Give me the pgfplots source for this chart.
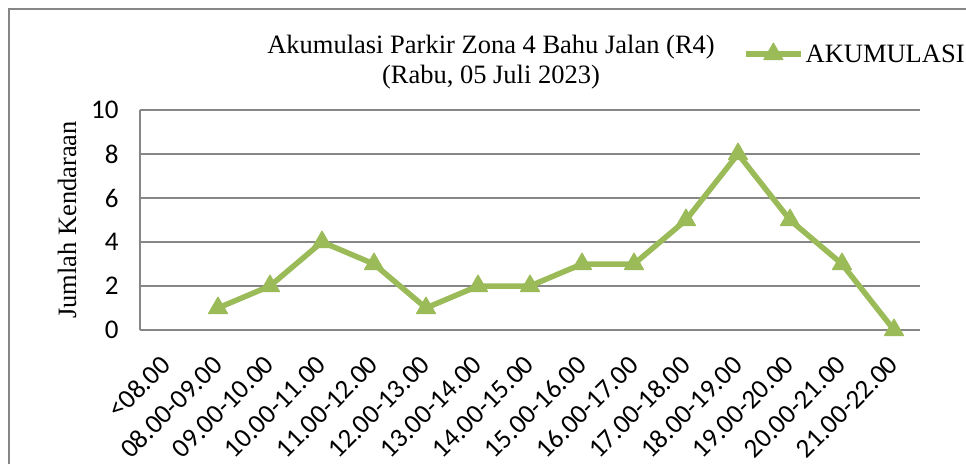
\documentclass[border=0pt]{standalone}
\usepackage{fontspec}
\setmainfont{Liberation Serif}
\newfontfamily\carlito{Carlito}
\usepackage{pgfplots}
\pgfplotsset{compat=1.18}
\definecolor{akumgreen}{HTML}{9BBB59}
\definecolor{gridgray}{HTML}{868686}

\begin{document}
\begin{tikzpicture}[x=1pt,y=1pt]
\useasboundingbox (0,0) rectangle (966,464);
\draw[gridgray, line width=1.5pt] (9,0) -- (9,455) -- (966,455);
\begin{axis}[
  at={(140pt,134pt)}, anchor=south west,
  scale only axis, width=780pt, height=220pt,
  xmin=-0.5, xmax=14.5, ymin=0, ymax=10,
  axis x line*=bottom, axis y line*=left,
  axis line style={gridgray, line width=1.5pt, -},
  ymajorgrids, grid style={gridgray, line width=1.5pt},
  ytick={0,2,...,10},
  xtick={0,...,14},
  xticklabels={<08.00,08.00-09.00,09.00-10.00,10.00-11.00,11.00-12.00,12.00-13.00,13.00-14.00,14.00-15.00,15.00-16.00,16.00-17.00,17.00-18.00,18.00-19.00,19.00-20.00,20.00-21.00,21.00-22.00},
  major tick length=0pt,
  tick style={draw=none},
  /pgf/number format/assume math mode=true,
  ticklabel style={font=\carlito\fontsize{27}{32}\selectfont},
  xticklabel style={xshift=2pt, yshift=-28pt, rotate=45, anchor=east},
  yticklabel style={xshift=-18pt},
  ylabel={Jumlah Kendaraan},
  ylabel style={at={(axis description cs:-0.0936,0.5)}, anchor=center, font=\fontsize{26.5}{31}\selectfont},
  legend style={at={(0.773,1.2545)}, anchor=west, draw=none, fill=none, inner sep=0pt,
    font=\fontsize{26.5}{31}\selectfont},
  legend image code/.code={\draw[#1, mark repeat=2, mark phase=2] plot coordinates {(0pt,0pt) (27.5pt,0pt) (55pt,0pt)};},
]
\addplot[akumgreen, line width=5.5pt, line join=round, mark=triangle*, mark size=11pt,
  mark options={solid, line width=1pt}]
  coordinates {(1,1) (2,2) (3,4) (4,3) (5,1) (6,2) (7,2) (8,3) (9,3) (10,5) (11,8) (12,5) (13,3) (14,0)};
\addlegendentry{AKUMULASI}
\end{axis}
\node[align=center, font=\fontsize{26.5}{30}\selectfont] at (491,402)
  {Akumulasi Parkir Zona 4 Bahu Jalan (R4)\\(Rabu, 05 Juli 2023)};
\end{tikzpicture}
\end{document}
